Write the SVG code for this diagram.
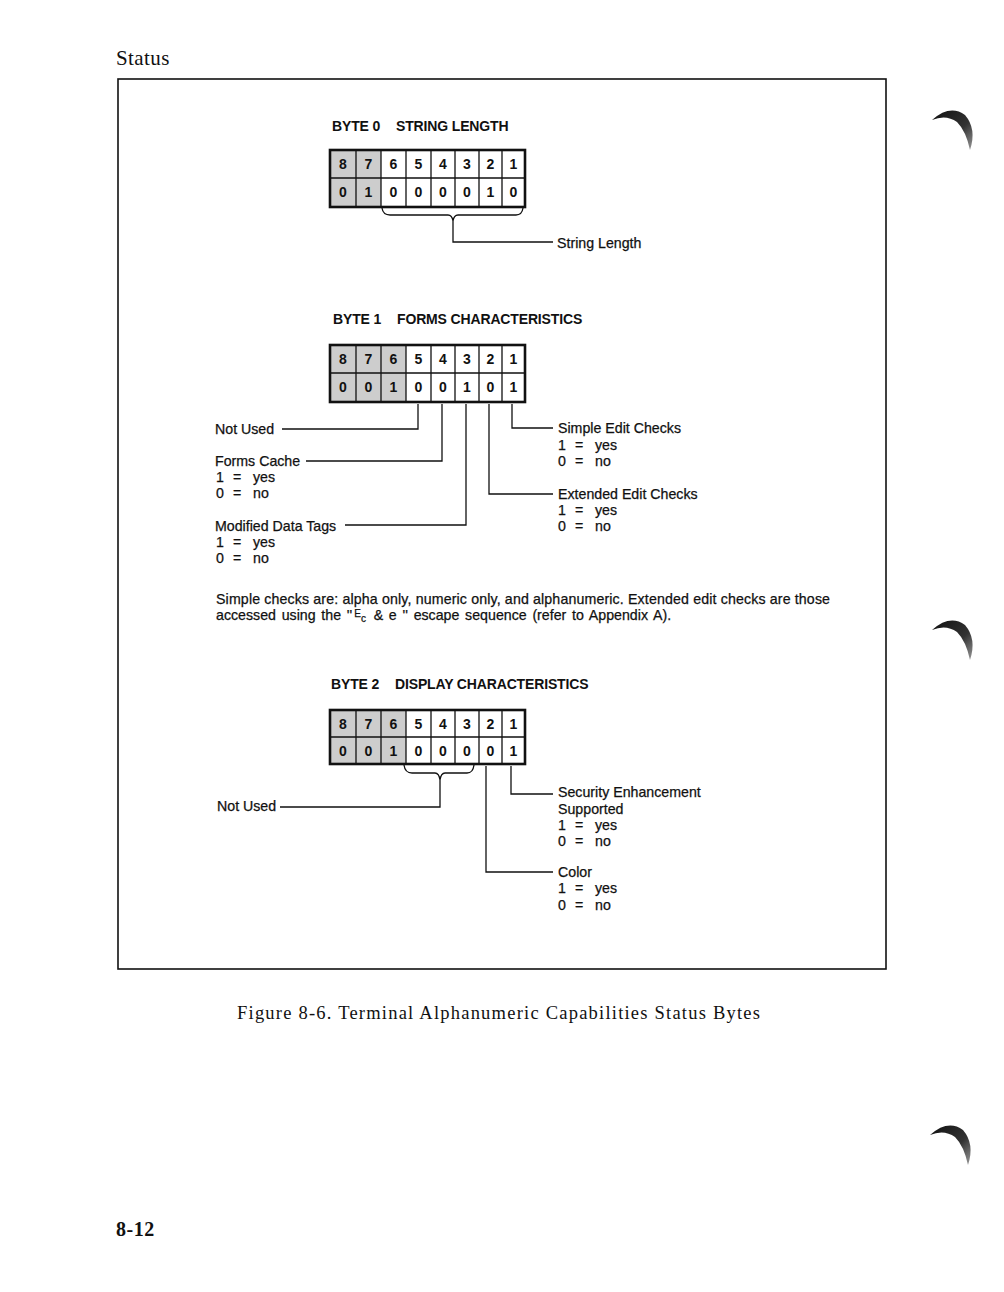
<svg xmlns="http://www.w3.org/2000/svg" width="1004" height="1292" viewBox="0 0 1004 1292">
<style>
.page{font-family:"Liberation Serif","DejaVu Serif",serif;fill:#111}
.hd{font-family:"Liberation Sans",Arial,sans-serif;font-weight:bold;font-size:14px;letter-spacing:-0.15px;fill:#111}
.lbl{font-family:"Liberation Sans",Arial,sans-serif;font-size:14.2px;fill:#111;stroke:#111;stroke-width:0.25}
.cell{font-family:"Liberation Sans",Arial,sans-serif;font-size:14px;font-weight:bold;fill:#111;text-anchor:middle}
.grid{stroke:#111;stroke-width:1.3;fill:none}
.outer{stroke:#111;stroke-width:2.6;fill:none}
.shade{fill:#cdcdcd}
.ln{stroke:#111;stroke-width:1.3;fill:none}
.frame{stroke:#111;stroke-width:1.6;fill:none}
</style>
<defs>
<linearGradient id="cres" x1="0" y1="0" x2="1" y2="1">
<stop offset="0" stop-color="#111"/>
<stop offset="0.6" stop-color="#333"/>
<stop offset="1" stop-color="#999"/>
</linearGradient>
</defs>
<rect width="1004" height="1292" fill="#fff"/>
<text class="page" x="116" y="65" font-size="21" letter-spacing="0.4">Status</text>
<rect class="frame" x="118" y="79" width="768" height="890"/>

<g id="byte0">
<text class="hd" x="332" y="131">BYTE 0</text>
<text class="hd" x="396" y="131">STRING LENGTH</text>
<rect class="shade" x="330" y="150" width="51" height="57"/>
<path class="grid" d="M330,178H525M356,150V207M381,150V207M406,150V207M431,150V207M455,150V207M479,150V207M502,150V207"/>
<rect class="outer" x="330" y="150" width="195" height="57"/>
<g class="cell">
<text x="343" y="169">8</text><text x="368.5" y="169">7</text><text x="393.5" y="169">6</text><text x="418.5" y="169">5</text><text x="443" y="169">4</text><text x="467" y="169">3</text><text x="490.5" y="169">2</text><text x="513.5" y="169">1</text>
<text x="343" y="197">0</text><text x="368.5" y="197">1</text><text x="393.5" y="197">0</text><text x="418.5" y="197">0</text><text x="443" y="197">0</text><text x="467" y="197">0</text><text x="490.5" y="197">1</text><text x="513.5" y="197">0</text>
</g>
</g>

<g id="byte1">
<text class="hd" x="333" y="324">BYTE 1</text>
<text class="hd" x="397" y="324">FORMS CHARACTERISTICS</text>
<rect class="shade" x="330" y="345" width="76" height="57"/>
<path class="grid" d="M330,373H525M356,345V402M381,345V402M406,345V402M431,345V402M455,345V402M479,345V402M502,345V402"/>
<rect class="outer" x="330" y="345" width="195" height="57"/>
<g class="cell">
<text x="343" y="364">8</text><text x="368.5" y="364">7</text><text x="393.5" y="364">6</text><text x="418.5" y="364">5</text><text x="443" y="364">4</text><text x="467" y="364">3</text><text x="490.5" y="364">2</text><text x="513.5" y="364">1</text>
<text x="343" y="392">0</text><text x="368.5" y="392">0</text><text x="393.5" y="392">1</text><text x="418.5" y="392">0</text><text x="443" y="392">0</text><text x="467" y="392">1</text><text x="490.5" y="392">0</text><text x="513.5" y="392">1</text>
</g>
</g>

<g id="byte2">
<text class="hd" x="331" y="689">BYTE 2</text>
<text class="hd" x="395" y="689">DISPLAY CHARACTERISTICS</text>
<rect class="shade" x="330" y="710" width="76" height="54"/>
<path class="grid" d="M330,737H525M356,710V764M381,710V764M406,710V764M431,710V764M455,710V764M479,710V764M502,710V764"/>
<rect class="outer" x="330" y="710" width="195" height="54"/>
<g class="cell">
<text x="343" y="729">8</text><text x="368.5" y="729">7</text><text x="393.5" y="729">6</text><text x="418.5" y="729">5</text><text x="443" y="729">4</text><text x="467" y="729">3</text><text x="490.5" y="729">2</text><text x="513.5" y="729">1</text>
<text x="343" y="756">0</text><text x="368.5" y="756">0</text><text x="393.5" y="756">1</text><text x="418.5" y="756">0</text><text x="443" y="756">0</text><text x="467" y="756">0</text><text x="490.5" y="756">0</text><text x="513.5" y="756">1</text>
</g>
</g>

<g id="connectors">
<path class="ln" d="M382,208Q383,215 390,215H448Q452,215 453,221Q454,215 458,215H516Q522,215 523,208"/>
<path class="ln" d="M453,221V242H553"/>
<path class="ln" d="M418,404V429H282"/>
<path class="ln" d="M442,404V461H306"/>
<path class="ln" d="M466,404V525H345"/>
<path class="ln" d="M489,404V494H553"/>
<path class="ln" d="M512,404V428H553"/>
<path class="ln" d="M404,765Q405,773 412,773H435Q439,773 440,780Q441,773 445,773H467Q473,773 474,765"/>
<path class="ln" d="M440,780V807H280"/>
<path class="ln" d="M486,766V872H553"/>
<path class="ln" d="M511,766V794H553"/>
</g>

<g id="labels" class="lbl">
<text x="557" y="248">String Length</text>
<text x="215" y="434">Not Used</text>
<text x="215" y="466">Forms Cache</text>
<text y="482"><tspan x="216">1</tspan><tspan x="233">=</tspan><tspan x="253">yes</tspan></text>
<text y="498"><tspan x="216">0</tspan><tspan x="233">=</tspan><tspan x="253">no</tspan></text>
<text x="215" y="531">Modified Data Tags</text>
<text y="547"><tspan x="216">1</tspan><tspan x="233">=</tspan><tspan x="253">yes</tspan></text>
<text y="563"><tspan x="216">0</tspan><tspan x="233">=</tspan><tspan x="253">no</tspan></text>
<text x="558" y="433">Simple Edit Checks</text>
<text y="450"><tspan x="558">1</tspan><tspan x="575">=</tspan><tspan x="595">yes</tspan></text>
<text y="466"><tspan x="558">0</tspan><tspan x="575">=</tspan><tspan x="595">no</tspan></text>
<text x="558" y="499">Extended Edit Checks</text>
<text y="515"><tspan x="558">1</tspan><tspan x="575">=</tspan><tspan x="595">yes</tspan></text>
<text y="531"><tspan x="558">0</tspan><tspan x="575">=</tspan><tspan x="595">no</tspan></text>
<text x="216" y="604" textLength="614">Simple checks are: alpha only, numeric only, and alphanumeric. Extended edit checks are those</text>
<text x="216" y="620" word-spacing="1.8">accessed using the ''<tspan font-size="10" dy="-3" dx="2">E</tspan><tspan font-size="10" dy="5">c</tspan><tspan dy="-2" dx="2"> &amp; e '' escape sequence (refer to Appendix A).</tspan></text>
<text x="217" y="811">Not Used</text>
<text x="558" y="797">Security Enhancement</text>
<text x="558" y="814">Supported</text>
<text y="830"><tspan x="558">1</tspan><tspan x="575">=</tspan><tspan x="595">yes</tspan></text>
<text y="846"><tspan x="558">0</tspan><tspan x="575">=</tspan><tspan x="595">no</tspan></text>
<text x="558" y="877">Color</text>
<text y="893"><tspan x="558">1</tspan><tspan x="575">=</tspan><tspan x="595">yes</tspan></text>
<text y="910"><tspan x="558">0</tspan><tspan x="575">=</tspan><tspan x="595">no</tspan></text>
</g>

<text class="page" x="237" y="1019" font-size="18.5" textLength="523">Figure 8-6.  Terminal Alphanumeric Capabilities Status Bytes</text>
<text class="page" x="116" y="1236" font-size="20" font-weight="bold" letter-spacing="0.5">8-12</text>

<g fill="url(#cres)">
<path d="M932,120Q950,104 965,115Q977,129 970,150Q966,131 957,122Q946,114 932,120Z"/>
<path d="M932,630Q950,614 965,625Q977,639 970,660Q966,641 957,632Q946,624 932,630Z"/>
<path d="M930,1135Q948,1119 963,1130Q975,1144 968,1165Q964,1146 955,1137Q944,1129 930,1135Z"/>
</g>
</svg>
